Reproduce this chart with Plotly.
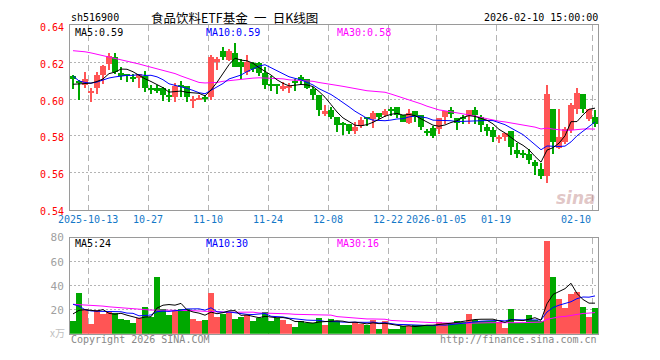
import plotly.graph_objects as go

# ---------------- data ----------------
opens = [.6121, .6095, .6077, .6035, .6056, .6130, .6186, .6228, .6140, .6128,
         .6119, .6112, .6126, .6056, .6056, .6056, .6021, .6011, .6072, .6072,
         .5990, .5997, .6002, .6011, .6200, .6258, .6210, .6249, .6200, .6147,
         .6193, .6196, .6140, .6075, .6077, .6058, .6058, .6095, .6116, .6105,
         .6053, .6018, .5916, .5942, .5902, .5865, .5865, .5825, .5853, .5902,
         .5888, .5923, .5914, .5942, .5956, .5914, .5870, .5935, .5910, .5823,
         .5842, .5835, .5902, .5940, .5895, .5896, .5909, .5942, .5902, .5846,
         .5832, .5786, .5793, .5825, .5723, .5702, .5702, .5655, .5621, .5582,
         .5944, .5735, .5765, .5832, .5944, .6028, .5893, .5902]
highs = [.6130, .6100, .6147, .6056, .6147, .6182, .6246, .6249, .6172, .6135,
         .6135, .6135, .6149, .6075, .6075, .6065, .6053, .6086, .6095, .6072,
         .6016, .6021, .6021, .6235, .6228, .6281, .6270, .6305, .6214, .6235,
         .6200, .6200, .6170, .6126, .6077, .6091, .6088, .6109, .6130, .6109,
         .6065, .6018, .5965, .5954, .5902, .5877, .5865, .5872, .5902, .5902,
         .5933, .5923, .5946, .5958, .5956, .5914, .5946, .5935, .5914, .5835,
         .5854, .5895, .5933, .5954, .5895, .5912, .5940, .5954, .5912, .5863,
         .5846, .5804, .5814, .5825, .5758, .5723, .5726, .5670, .5653, .6077,
         .5944, .5944, .5846, .5977, .6056, .6028, .5944, .5940]
lows = [.6053, .5995, .6060, .5982, .6025, .6083, .6158, .6135, .6103, .6091,
        .6091, .6061, .6039, .6025, .6030, .5986, .5982, .5982, .6012, .5982,
        .5951, .5993, .5982, .5995, .6158, .6210, .6203, .6170, .6109, .6130,
        .6147, .6126, .6053, .6042, .6025, .6040, .6032, .6040, .6074, .6051,
        .5993, .5909, .5909, .5891, .5819, .5804, .5812, .5807, .5842, .5854,
        .5842, .5891, .5902, .5907, .5898, .5872, .5865, .5872, .5830, .5798,
        .5790, .5809, .5863, .5895, .5832, .5863, .5863, .5863, .5819, .5800,
        .5767, .5763, .5772, .5697, .5681, .5679, .5649, .5586, .5568, .5544,
        .5702, .5730, .5755, .5814, .5916, .5923, .5880, .5846]
closes = [.6109, .6088, .6105, .6044, .6130, .6177, .6232, .6147, .6126, .6125,
          .6109, .6132, .6056, .6053, .6046, .6021, .6011, .6070, .6068, .6011,
          .6000, .6007, .6000, .6228, .6218, .6228, .6258, .6175, .6175, .6200,
          .6161, .6140, .6077, .6072, .6070, .6067, .6070, .6088, .6100, .6058,
          .6021, .5937, .5933, .5902, .5856, .5861, .5826, .5846, .5886, .5888,
          .5923, .5902, .5935, .5938, .5914, .5875, .5923, .5900, .5849, .5820,
          .5800, .5895, .5933, .5916, .5867, .5893, .5940, .5912, .5856, .5825,
          .5793, .5793, .5814, .5737, .5702, .5700, .5670, .5637, .5582, .6028,
          .5765, .5793, .5835, .5965, .6032, .5947, .5944, .5865]
volumes = [11.2, 34.0, 21.3, 8.5, 19.7, 17.0, 18.4, 17.6, 12.5, 11.7,
           9.3, 13.0, 22.9, 13.9, 47.7, 21.3, 15.7, 20.3, 21.3, 20.8,
           12.5, 10.9, 11.7, 34.1, 14.1, 16.8, 18.7, 12.5, 14.4, 15.7,
           10.9, 13.3, 18.1, 10.9, 13.3, 11.7, 8.8, 6.1, 10.9, 9.3,
           9.3, 13.3, 8.0, 12.5, 10.7, 7.7, 7.7, 9.9, 8.5, 7.2,
           12.0, 4.5, 11.2, 4.5, 4.5, 6.7, 6.4, 7.7, 7.2, 7.7,
           6.7, 10.4, 9.3, 9.6, 11.2, 9.9, 16.8, 11.7, 10.7, 10.7,
           10.7, 9.9, 5.3, 21.3, 9.1, 9.1, 15.7, 11.5, 10.9, 77.6,
           47.7, 29.3, 22.1, 33.3, 34.9, 22.9, 14.1, 22.1]

# moving-average values at the start of the window (they depend on earlier days)
ma5_head = [.6080, .6082, .6085, .6086]
ma10_head = [.6125, .6098, .6090, .6086, .6092, .6103, .6114, .6120, .6126]
ma30_head = [.6262, .6260, .6256, .6250, .6243, .6236, .6229, .6220, .6211, .6205,
             .6198, .6190, .6181, .6173, .6166, .6158, .6148, .6138, .6125, .6112,
             .6099, .6090, .6087, .6087, .6090, .6096, .6100, .6104, .6108]
vma5_head = [16.5, 19.5, 20.0, 19.5]
vma10_head = [24.5, 23.0, 20.0, 19.0, 18.7, 18.7, 18.5, 18.5, 18.3]
vma30_head = [24.5, 24.3, 24.1, 23.8, 23.4, 23.0, 22.4, 22.0, 21.5, 21.0,
              20.5, 20.0, 19.8, 19.7, 19.7, 19.7, 19.7, 19.6, 19.5, 19.4,
              19.2, 18.9, 18.6, 18.3, 18.1, 18.0, 17.9, 17.9, 17.95]

tick_index = [3, 13, 23, 33, 43, 53, 61, 71, 87]
tick_labels = ["2025-10-13", "10-27", "11-10", "11-24", "12-08", "12-22",
               "2026-01-05", "01-19", "02-10"]

code = "sh516900"
title = "食品饮料ETF基金\u2002一\u2002日K线图"
stamp = "2026-02-10 15:00:00"
ma_price_labels = ["MA5:0.59", "MA10:0.59", "MA30:0.58"]
ma_vol_labels = ["MA5:24", "MA10:30", "MA30:16"]

# ---------------- helpers ----------------
def moving_avg(vals, n, head):
    out = []
    for i in range(len(vals)):
        if i < n - 1:
            out.append(head[i])
        else:
            out.append(sum(vals[i - n + 1:i + 1]) / n)
    return out

N = len(closes)
idx = list(range(N))
RED = "#ff5555"
GREEN = "#00a800"
colors = [RED if c >= o else GREEN for o, c in zip(opens, closes)]
body_base = [min(o, c) for o, c in zip(opens, closes)]
body_h = [max(abs(c - o), 0.0005) for o, c in zip(opens, closes)]
wick_h = [h - l for h, l in zip(highs, lows)]

ma5 = moving_avg(closes, 5, ma5_head)
ma10 = moving_avg(closes, 10, ma10_head)
ma30 = moving_avg(closes, 30, ma30_head)
vma5 = moving_avg(volumes, 5, vma5_head)
vma10 = moving_avg(volumes, 10, vma10_head)
vma30 = moving_avg(volumes, 30, vma30_head)

MONO = "DejaVu Sans Mono"
W, H = 660, 360
X0, X1 = 70, 598
P_TOP, P_BOT = 20, 212
V_TOP, V_BOT = 241, 341

def px(x):
    return x / W

def py(y):
    return 1 - y / H

fig = go.Figure()

# price panel
fig.add_trace(go.Bar(x=idx, y=wick_h, base=lows, width=0.17, marker=dict(color=colors, line=dict(width=0)),
                     xaxis="x", yaxis="y", showlegend=False, hoverinfo="skip"))
fig.add_trace(go.Bar(x=idx, y=body_h, base=body_base, width=0.84, marker=dict(color=colors, line=dict(width=0)),
                     xaxis="x", yaxis="y", showlegend=False, hoverinfo="skip"))
for vals, col in [(ma30, "#ff00ff"), (ma10, "#0000ff"), (ma5, "#000000")]:
    fig.add_trace(go.Scatter(x=idx, y=vals, mode="lines", line=dict(color=col, width=1),
                             xaxis="x", yaxis="y", showlegend=False, hoverinfo="skip"))

# volume panel
fig.add_trace(go.Bar(x=idx, y=volumes, width=0.84, marker=dict(color=colors, line=dict(width=0)),
                     xaxis="x2", yaxis="y2", showlegend=False, hoverinfo="skip"))
for vals, col in [(vma30, "#ff00ff"), (vma10, "#0000ff"), (vma5, "#000000")]:
    fig.add_trace(go.Scatter(x=idx, y=vals, mode="lines", line=dict(color=col, width=1),
                             xaxis="x2", yaxis="y2", showlegend=False, hoverinfo="skip"))

grid_x = [i - 0.5 for i in tick_index]
xcommon = dict(range=[-0.5, N - 0.5], showticklabels=False, tickvals=grid_x, ticks="",
               showgrid=True, gridcolor="#b4b4b4", griddash="6px,4px", gridwidth=1,
               showline=True, linecolor="#9a9a9a", linewidth=1, mirror=True, zeroline=False,
               fixedrange=True)
price_ticks = [0.54, 0.56, 0.58, 0.60, 0.62, 0.64]
vol_ticks = [0, 20, 40, 60, 80]

fig.update_layout(
    width=W, height=H, autosize=False,
    margin=dict(l=0, r=0, t=0, b=0),
    paper_bgcolor="white", plot_bgcolor="white",
    barmode="overlay", bargap=0,
    xaxis=dict(domain=[px(X0), px(X1)], anchor="y", **xcommon),
    xaxis2=dict(domain=[px(X0), px(X1)], anchor="y2", **xcommon),
    yaxis=dict(domain=[py(P_BOT), py(P_TOP)], anchor="x", range=[0.54, 0.64],
               tickvals=price_ticks, ticktext=["%.2f" % v for v in price_ticks],
               tickfont=dict(family=MONO, size=10, color="#ff0000"), ticks="",
               ticklabelshift=2, ticklabelstandoff=3,
               showgrid=True, gridcolor="#b4b4b4", griddash="2px,2px", gridwidth=1,
               showline=True, linecolor="#9a9a9a", mirror=True, zeroline=False, fixedrange=True),
    yaxis2=dict(domain=[py(V_BOT), py(V_TOP)], anchor="x2", range=[0, 80],
                tickvals=vol_ticks, ticktext=["" if v == 0 else str(v) for v in vol_ticks],
                tickfont=dict(family=MONO, size=11, color="#a0a0a0"), ticks="",
                ticklabelstandoff=3,
                showgrid=True, gridcolor="#b4b4b4", griddash="2px,2px", gridwidth=1,
                showline=True, linecolor="#9a9a9a", mirror=True, zeroline=False, fixedrange=True),
)

ann = []
def text(x, y, s, color="#000", size=11, family=MONO, xanchor="left", **kw):
    ann.append(dict(x=px(x), y=py(y), xref="paper", yref="paper", text=s, showarrow=False,
                    xanchor=xanchor, yanchor="middle", borderpad=0,
                    font=dict(family=family, size=size, color=color, **kw)))

text(70, 12, code, size=10)
text(150, 11.5, title, size=12.5, family="Noto Sans CJK SC")
text(599, 12, stamp, size=10, xanchor="right")
for s, x, col in zip(ma_price_labels, [74, 205, 336], ["#000000", "#0000ff", "#ff00ff"]):
    text(x, 28, s, color=col, size=10)
for s, x, col in zip(ma_vol_labels, [74, 205, 336], ["#000000", "#0000ff", "#ff00ff"]):
    text(x, 247, s, color=col, size=10)
text(70, 347, "Copyright 2026 SINA.COM", color="#888888", size=10)
text(598, 347, "http://finance.sina.com.cn", color="#888888", size=10, xanchor="right")
text(66, 340, "x万", color="#c0c0c0", size=10, xanchor="right", family="Noto Sans CJK SC")
text(597, 200, "sina", color="rgba(200,150,150,0.55)", size=17, family="DejaVu Sans",
     xanchor="right", weight="bold", style="italic")

# date labels under the price panel
for i, lab in zip(tick_index, tick_labels):
    ann.append(dict(x=i - 0.5, y=py(222), xref="x", yref="paper", text=lab, showarrow=False,
                    xanchor="right" if i == N - 1 else "center", yanchor="middle", borderpad=0,
                    font=dict(family=MONO, size=10, color="#1478c8")))

fig.update_layout(annotations=ann)
fig.write_html("out.html", config={"displayModeBar": False},
               post_script="document.body.style.margin='0';document.body.style.overflow='hidden';")
